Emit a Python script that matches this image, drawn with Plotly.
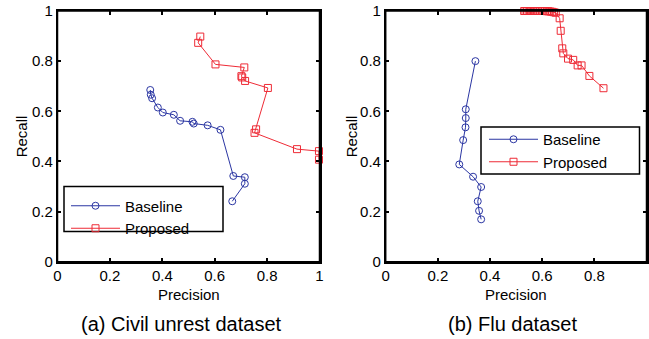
import plotly.graph_objects as go

# ---------------- data ----------------
civil_base_precision = [0.354, 0.356, 0.361, 0.383, 0.402, 0.444, 0.468, 0.515, 0.520, 0.573, 0.622, 0.671, 0.715, 0.715, 0.667]
civil_base_recall    = [0.685, 0.666, 0.652, 0.615, 0.595, 0.586, 0.562, 0.558, 0.551, 0.544, 0.526, 0.342, 0.337, 0.311, 0.241]

civil_prop_precision = [0.545, 0.537, 0.603, 0.713, 0.702, 0.705, 0.716, 0.803, 0.758, 0.752, 0.914, 0.998, 0.998]
civil_prop_recall    = [0.898, 0.873, 0.787, 0.775, 0.740, 0.735, 0.721, 0.693, 0.528, 0.514, 0.449, 0.441, 0.407]

flu_base_precision = [0.344, 0.307, 0.307, 0.306, 0.297, 0.282, 0.335, 0.366, 0.353, 0.358, 0.366]
flu_base_recall    = [0.800, 0.608, 0.573, 0.536, 0.485, 0.388, 0.339, 0.298, 0.241, 0.203, 0.169]

flu_prop_precision = [0.531, 0.536, 0.542, 0.548, 0.553, 0.559, 0.566, 0.572, 0.578, 0.585, 0.591, 0.598, 0.605, 0.611, 0.618, 0.624, 0.631, 0.638, 0.645, 0.652,
                      0.667, 0.671, 0.677, 0.681, 0.699, 0.719, 0.736, 0.751, 0.781, 0.835]
flu_prop_recall    = [1.000, 1.000, 1.000, 1.000, 1.000, 1.000, 1.000, 1.000, 1.000, 1.000, 1.000, 1.000, 1.000, 1.000, 0.999, 0.999, 0.998, 0.997, 0.995, 0.993,
                      0.971, 0.921, 0.851, 0.831, 0.810, 0.805, 0.783, 0.783, 0.741, 0.692]

tick_vals = [0, 0.2, 0.4, 0.6, 0.8, 1]
tick_text = ["0", "0.2", "0.4", "0.6", "0.8", "1"]
series_names = ["Baseline", "Proposed"]
subcaptions = ["(a) Civil unrest dataset", "(b) Flu dataset"]
x_label = "Precision"
y_label = "Recall"

BLUE = "#2b36a3"
RED = "#ee2b36"
FONT = "Liberation Sans, Arial, Helvetica, sans-serif"

W, H = 649, 339
# axis pixel geometry
L_X0, L_X1 = 57.5, 319.5
R_X0, R_X1 = 385.7, 646.5
Y_TOP, Y_BOT = 11.0, 261.7

def px(xp):
    return xp / W

def py(yp):
    return 1 - yp / H

fig = go.Figure()

def add_series(x, y, name, color, symbol, xa, ya, legend):
    fig.add_trace(go.Scatter(
        x=x, y=y, name=name, mode="lines+markers",
        line=dict(color=color, width=1),
        marker=dict(symbol=symbol, size=7, color=color, line=dict(color=color, width=1)),
        xaxis=xa, yaxis=ya, legend=legend, showlegend=True, cliponaxis=False,
    ))

add_series(civil_base_precision, civil_base_recall, series_names[0], BLUE, "circle-open", "x", "y", "legend")
add_series(civil_prop_precision, civil_prop_recall, series_names[1], RED, "square-open", "x", "y", "legend")
add_series(flu_base_precision, flu_base_recall, series_names[0], BLUE, "circle-open", "x2", "y2", "legend2")
add_series(flu_prop_precision, flu_prop_recall, series_names[1], RED, "square-open", "x2", "y2", "legend2")

axis_common = dict(
    range=[0, 1], tickvals=tick_vals, ticktext=tick_text,
    showline=True, linecolor="black", linewidth=1.5, mirror="ticks",
    ticks="inside", ticklen=4, tickcolor="black", tickwidth=1.5,
    showgrid=False, zeroline=False,
    tickfont=dict(family=FONT, size=15, color="black"),
)

fig.update_layout(
    template="none",
    width=W, height=H,
    margin=dict(l=0, r=0, t=0, b=0),
    paper_bgcolor="white", plot_bgcolor="white",
    xaxis=dict(domain=[px(L_X0), px(L_X1)], anchor="y", **axis_common),
    yaxis=dict(domain=[py(Y_BOT), py(Y_TOP)], anchor="x", **axis_common),
    xaxis2=dict(domain=[px(R_X0), px(R_X1)], anchor="y2", **axis_common),
    yaxis2=dict(domain=[py(Y_BOT), py(Y_TOP)], anchor="x2", **axis_common),
    legend=dict(x=px(66), y=py(189.5), xanchor="left", yanchor="top",
                bgcolor="rgba(0,0,0,0)", borderwidth=0, itemwidth=49, tracegroupgap=0,
                font=dict(family=FONT, size=15, color="black")),
    legend2=dict(x=px(484), y=py(123), xanchor="left", yanchor="top",
                 bgcolor="rgba(0,0,0,0)", borderwidth=0, itemwidth=49, tracegroupgap=0,
                 font=dict(family=FONT, size=15, color="black")),
    showlegend=True,
)

# axes frames (paper-referenced so they are not clipped)
for x0, x1 in [(L_X0, L_X1), (R_X0, R_X1)]:
    fig.add_shape(type="rect", xref="paper", yref="paper",
                  x0=px(x0), x1=px(x1), y0=py(Y_BOT), y1=py(Y_TOP),
                  line=dict(color="black", width=1.5), fillcolor="rgba(0,0,0,0)", layer="above")

# legend frames
fig.add_shape(type="rect", xref="paper", yref="paper",
              x0=px(64), x1=px(223), y0=py(231.5), y1=py(186.5),
              line=dict(color="black", width=1.5), fillcolor="white", layer="above")
fig.add_shape(type="rect", xref="paper", yref="paper",
              x0=px(481), x1=px(639.5), y0=py(174), y1=py(127),
              line=dict(color="black", width=1.5), fillcolor="white", layer="above")

anns = []
for cx, ylx in [((L_X0 + L_X1) / 2, 21), ((R_X0 + R_X1) / 2, 351)]:
    anns.append(dict(x=px(cx), y=py(294), xref="paper", yref="paper", text=x_label, showarrow=False,
                     xanchor="center", yanchor="middle", font=dict(family=FONT, size=15, color="black")))
    anns.append(dict(x=px(ylx), y=py((Y_TOP + Y_BOT) / 2), xref="paper", yref="paper", text=y_label, showarrow=False,
                     textangle=-90, xanchor="center", yanchor="middle", font=dict(family=FONT, size=15, color="black")))
anns.append(dict(x=px(181.7), y=py(324), xref="paper", yref="paper", text=subcaptions[0], showarrow=False,
                 xanchor="center", yanchor="middle", font=dict(family=FONT, size=20, color="black")))
anns.append(dict(x=px(512.5), y=py(324), xref="paper", yref="paper", text=subcaptions[1], showarrow=False,
                 xanchor="center", yanchor="middle", font=dict(family=FONT, size=20, color="black")))
fig.update_layout(annotations=anns)

fig.write_html("out.html", config={"displayModeBar": False},
               post_script="document.body.style.margin='0px';document.body.style.overflow='hidden';")
